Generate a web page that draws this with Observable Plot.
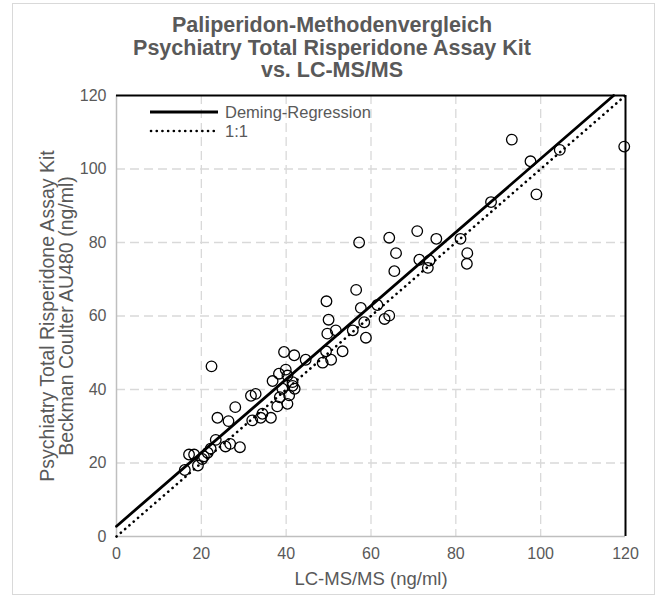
<!DOCTYPE html>
<html><head><meta charset="utf-8">
<script src="https://cdn.jsdelivr.net/npm/d3@7"></script>
<script src="https://cdn.jsdelivr.net/npm/@observablehq/plot@0.6"></script>
<style>
body{margin:0;background:#fff;font-family:"Liberation Sans",Arial,sans-serif;}
#chart{position:relative;width:657px;height:597px;overflow:hidden;background:#fff;}
#frame{position:absolute;left:12px;top:3px;width:643px;height:592px;border:1px solid #d9d9d9;box-sizing:border-box;pointer-events:none;}
#title{position:absolute;left:0;top:14px;width:664px;text-align:center;font-weight:bold;font-size:21.5px;line-height:22.5px;color:#595959;}
#plot{position:absolute;left:0;top:85px;}
#legend{position:absolute;left:0;top:0;pointer-events:none;}
</style></head>
<body>
<div id="chart">
  <div id="title"></div>
  <div id="plot"></div>
  <svg id="legend" width="657" height="597"></svg>
  <div id="frame"></div>
</div>
<script>
// ---- data ----
const titleLines = ["Paliperidon-Methodenvergleich", "Psychiatry Total Risperidone Assay Kit", "vs. LC-MS/MS"];
const xTitle = "LC-MS/MS (ng/ml)";
const yTitleLines = ["Psychiatry Total Risperidone Assay Kit", "Beckman Coulter AU480 (ng/ml)"];
const legendLabels = ["Deming-Regression", "1:1"];
const axisTicks = [0, 20, 40, 60, 80, 100, 120];
const gridTicks = [20, 40, 60, 80, 100];
const lcms = [16.1,17.1,18.3,19.2,20.2,20.6,21.5,22.2,22.4,23.4,23.8,25.7,26.4,26.8,28.0,29.1,
  31.7,32.8,32.0,34.0,34.4,36.4,36.8,37.9,38.3,38.5,39.1,39.5,39.9,40.3,40.3,40.7,41.5,41.9,42.0,41.5,
  44.6,48.6,49.4,49.5,50.0,49.7,50.6,51.7,53.3,55.7,56.5,57.2,57.6,58.4,58.8,61.5,63.2,64.3,64.3,65.5,65.9,
  70.9,71.4,73.4,73.8,75.4,81.1,82.7,82.6,88.3,93.2,97.6,99.0,104.5,119.7];
const au480 = [18.1,22.3,22.3,19.3,21.1,21.8,22.8,23.9,46.3,26.3,32.3,24.5,31.4,25.2,35.2,24.3,
  38.3,38.8,31.6,32.3,33.4,32.3,42.3,35.4,44.3,37.9,40.2,50.2,45.4,43.8,36.1,38.4,42.0,49.3,40.2,41.0,
  48.1,47.3,50.4,64.0,59.0,55.2,48.1,56.1,50.4,56.1,67.1,80.0,62.2,58.3,54.1,63.0,59.2,60.1,81.3,72.2,77.1,
  83.1,75.3,73.1,75.1,81.0,81.0,77.1,74.2,91.0,108.0,102.1,93.1,105.2,106.1];
const demingIntercept = 2.8;
const demingSlope = 1.0;
const axisMax = 120;

// ---- derived ----
const points = lcms.map((x, i) => ({x, y: au480[i]}));
const demingLine = [
  {x: 0, y: demingIntercept},
  {x: (axisMax - demingIntercept) / demingSlope, y: axisMax}
];
const identityLine = [{x: 0, y: 0}, {x: axisMax, y: axisMax}];

document.getElementById("title").innerHTML = titleLines.join("<br>");

const textColor = "#595959";
const font = '"Liberation Sans", Arial, sans-serif';
const plot = Plot.plot({
  width: 657,
  height: 512,
  marginTop: 10,
  marginLeft: 116,
  marginRight: 32,
  marginBottom: 61,
  style: {fontFamily: font, fontSize: "16px", color: textColor, background: "white"},
  x: {domain: [0, axisMax], ticks: axisTicks, tickSize: 0, tickPadding: 11, label: null},
  y: {domain: [0, axisMax], ticks: axisTicks, tickSize: 0, tickPadding: 10, label: null},
  marks: [
    Plot.ruleX(gridTicks, {stroke: "#d9d9d9", strokeWidth: 1.3, strokeDasharray: "9,5"}),
    Plot.ruleY(gridTicks, {stroke: "#d9d9d9", strokeWidth: 1.3, strokeDasharray: "9,5"}),
    Plot.ruleX([0], {stroke: "#bfbfbf", strokeWidth: 1.5}),
    Plot.ruleY([0], {stroke: "#bfbfbf", strokeWidth: 1.5}),
    Plot.ruleX([axisMax], {stroke: "black", strokeWidth: 2}),
    Plot.ruleY([axisMax], {stroke: "black", strokeWidth: 2}),
    Plot.line(identityLine, {x: "x", y: "y", stroke: "black", strokeWidth: 2.6, strokeDasharray: "0.1,5.6", strokeLinecap: "round"}),
    Plot.line(demingLine, {x: "x", y: "y", stroke: "black", strokeWidth: 2.8}),
    Plot.dot(points, {x: "x", y: "y", r: 5.3, stroke: "black", strokeWidth: 1.3, fill: "none"}),
    Plot.text([xTitle], {frameAnchor: "bottom", dy: 48, fontSize: 18.5, fill: textColor, text: d => d}),
    Plot.text([yTitleLines.join("\n")], {frameAnchor: "left", textAnchor: "middle", dx: -59, rotate: -90, fontSize: 19.5, lineHeight: 0.95, fill: textColor, text: d => d})
  ]
});
document.getElementById("plot").appendChild(plot);

// legend (inside plot area, top-left)
const lg = d3.select("#legend");
lg.append("line").attr("x1", 150).attr("x2", 218).attr("y1", 112).attr("y2", 112)
  .attr("stroke", "black").attr("stroke-width", 3);
lg.append("line").attr("x1", 151).attr("x2", 215).attr("y1", 131).attr("y2", 131)
  .attr("stroke", "black").attr("stroke-width", 2.6).attr("stroke-dasharray", "0.1,5.6").attr("stroke-linecap", "round");
lg.selectAll("text.l").data(legendLabels).join("text")
  .attr("x", 225).attr("y", (d, i) => 118 + i * 19)
  .attr("font-size", 16.5).attr("fill", textColor)
  .attr("font-family", font)
  .text(d => d);
</script>
</body></html>
